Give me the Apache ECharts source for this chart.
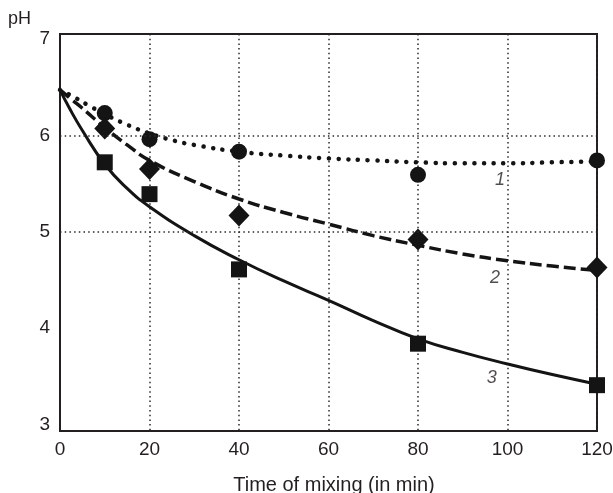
<!DOCTYPE html>
<html>
<head>
<meta charset="utf-8">
<script src="https://cdn.jsdelivr.net/npm/echarts@6/dist/echarts.min.js"></script>
<style>
  html, body { margin: 0; padding: 0; background: #fff; }
  #chart { width: 613px; height: 493px; }
</style>
</head>
<body>
<div id="chart"></div>
<script>
// Measured pH after mixing
const timeMin = [10, 20, 40, 80, 120];
const ph1 = [6.23, 5.96, 5.83, 5.59, 5.74];
const ph2 = [6.07, 5.65, 5.17, 4.92, 4.63];
const ph3 = [5.72, 5.39, 4.61, 3.84, 3.41];

// Fitted trend curves [time, pH]
const curve1 = [[0, 6.47], [3, 6.40], [6, 6.32], [10, 6.22], [15, 6.11], [20, 6.02], [25, 5.95],
  [30, 5.90], [40, 5.83], [50, 5.79], [60, 5.76], [70, 5.74], [80, 5.72], [90, 5.71],
  [100, 5.71], [110, 5.72], [120, 5.73]];
const curve2 = [[0, 6.47], [2.6, 6.37], [5, 6.28], [10, 6.08], [15, 5.9], [20, 5.74], [30, 5.52],
  [40, 5.34], [50, 5.2], [60, 5.08], [70, 4.96], [80, 4.86], [90, 4.77], [100, 4.70],
  [110, 4.645], [120, 4.60]];
const curve3 = [[0, 6.47], [2, 6.29], [5, 6.05], [10, 5.70], [15, 5.45], [20, 5.26],
  [30, 4.96], [40, 4.71], [50, 4.49], [60, 4.29], [70, 4.08], [80, 3.89], [90, 3.75],
  [100, 3.63], [110, 3.52], [120, 3.42]];

// Curve numbers and where they sit [time, pH]
const curveNames = ['1', '2', '3'];
const curveNameAt = [[98.3, 5.54], [97.2, 4.52], [96.5, 3.48]];

// Axis labels and reference levels
const yTickValues = [3, 4, 5, 6, 7];
const pHGridLevels = [5, 6];

const ink = '#231f20';
const markInk = '#141414';
const dotGrid = { color: '#2a2a2a', width: 1.5, type: [1.5, 3.2] };

const chart = echarts.init(document.getElementById('chart'), null, { renderer: 'canvas' });

const pairs = (xs, ys) => xs.map((x, i) => [x, ys[i]]);

chart.setOption({
  animation: false,
  backgroundColor: '#fff',
  textStyle: { fontFamily: 'Liberation Sans', color: ink },
  grid: {
    left: 60, right: 16, top: 34, bottom: 62,
    outerBoundsMode: 'none', containLabel: false,
    show: true, borderColor: ink, borderWidth: 2, backgroundColor: 'transparent'
  },
  xAxis: {
    type: 'value', min: 0, max: 120, interval: 20,
    name: 'Time of mixing (in min)',
    nameLocation: 'middle', nameGap: 44,
    nameTextStyle: { fontSize: 20, color: ink, padding: [0, 0, 0, 11] },
    axisLine: { show: true, onZero: false, lineStyle: { color: ink, width: 2 } },
    axisTick: { show: false },
    axisLabel: { fontSize: 19, color: ink, margin: 9 },
    splitLine: { show: true, lineStyle: dotGrid }
  },
  yAxis: {
    type: 'value', min: 2.935, max: 7.05,
    axisLine: { show: true, onZero: false, lineStyle: { color: ink, width: 2 } },
    axisTick: { show: false },
    axisLabel: { fontSize: 19, color: ink, margin: 10, customValues: yTickValues },
    splitLine: { show: false }
  },
  graphic: [{
    type: 'text', left: 8, top: 10, z: 10,
    style: { text: 'pH', font: '18px "Liberation Sans"', fill: ink }
  }],
  series: [
    {
      type: 'line', data: [], z: 1, silent: true,
      markLine: {
        silent: true, symbol: 'none', label: { show: false },
        lineStyle: dotGrid,
        data: pHGridLevels.map(v => ({ yAxis: v }))
      }
    },
    {
      type: 'line', data: curve1, showSymbol: false, smooth: 0.5,
      lineStyle: { color: markInk, width: 4.5, type: [0.1, 9.6], cap: 'round' }, z: 3
    },
    {
      type: 'line', data: curve2, showSymbol: false, smooth: 0.5,
      lineStyle: { color: markInk, width: 3.5, type: [12, 5] }, z: 3
    },
    {
      type: 'line', data: curve3, showSymbol: false, smooth: 0.5,
      lineStyle: { color: markInk, width: 3 }, z: 3
    },
    {
      type: 'scatter', data: pairs(timeMin, ph1), symbol: 'circle', symbolSize: 16,
      itemStyle: { color: markInk, opacity: 1 }, clip: false, z: 4
    },
    {
      type: 'scatter', data: pairs(timeMin, ph2), symbol: 'diamond', symbolSize: [21, 22],
      itemStyle: { color: markInk, opacity: 1 }, clip: false, z: 4
    },
    {
      type: 'scatter', data: pairs(timeMin, ph3), symbol: 'rect', symbolSize: 16,
      itemStyle: { color: markInk, opacity: 1 }, clip: false, z: 4
    },
    {
      type: 'scatter', symbolSize: 0, silent: true, z: 5,
      data: curveNameAt.map((p, i) => ({ value: p, name: curveNames[i] })),
      label: {
        show: true, position: 'inside', formatter: '{b}',
        fontSize: 18, fontStyle: 'italic', color: ink, fontFamily: 'Liberation Sans'
      }
    }
  ]
});
</script>
</body>
</html>
